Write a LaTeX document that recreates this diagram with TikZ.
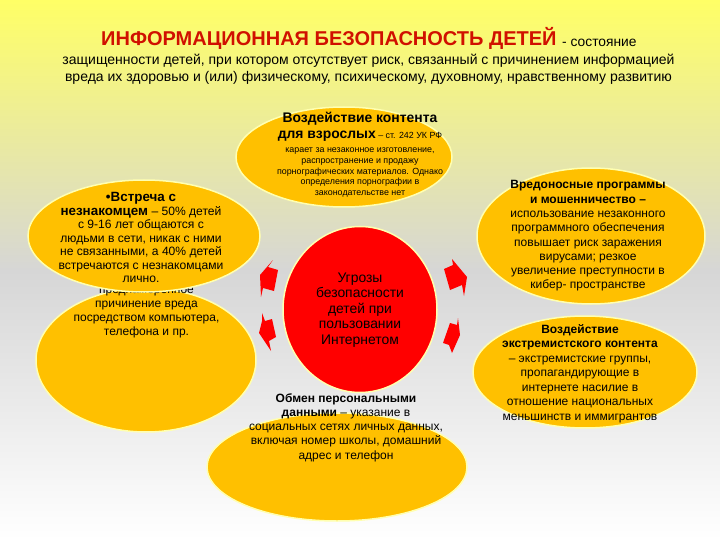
\documentclass[tikz,border=0pt]{standalone}
\usepackage{fontspec}
\setmainfont{Liberation Sans}
\usetikzlibrary{shapes.geometric}
\definecolor{pagetop}{HTML}{FFFF66}
\definecolor{pagemid}{HTML}{D6D6D6}
\definecolor{blobfill}{HTML}{FFC000}
\definecolor{blobedge}{HTML}{FFFFB0}
\definecolor{titlered}{HTML}{D01000}
\tikzset{
	blob/.style={ellipse,fill=blobfill,draw=blobedge,line width=1.5pt,inner sep=0pt},
	threat/.style={ellipse,fill=red,draw=blobedge,line width=1.5pt,inner sep=0pt},
	label/.style={align=center,inner sep=0pt,text=black,font=\fontsize{12}{14.3}\selectfont},
	redarrow/.style={fill=red,draw=none}
}
\begin{document}
\begin{tikzpicture}[x=1pt,y=-1pt]
	\shade[top color=pagetop,bottom color=pagemid] (0,0) rectangle (720,271);
	\shade[top color=pagemid,bottom color=white] (0,270) rectangle (720,540);
	\useasboundingbox (0,0) rectangle (720,540);

	\node[label,text=titlered,font=\bfseries\fontsize{20}{24}\selectfont,anchor=base west] (title) at (101,46) {ИНФОРМАЦИОННАЯ БЕЗОПАСНОСТЬ ДЕТЕЙ};
	\node[label,font=\fontsize{13.8}{16}\selectfont,anchor=base west] (titletail) at (562,47) {- состояние};
	\node[label,font=\fontsize{14}{17}\selectfont] (intro) at (368.5,69) {защищенности детей, при котором отсутствует риск, связанный с причинением информацией\\вреда их здоровью и (или) физическому, психическому, духовному, нравственному развитию};

	\node[blob,minimum width=220pt,minimum height=144pt] (cyber) at (146,360) {};
	\node[label,font=\fontsize{12}{14}\selectfont] (cybertext) at (146.5,312.5) {преднамеренное\\причинение вреда\\посредством компьютера,\\телефона и пр.};
	\node[blob,minimum width=232pt,minimum height=112pt] (stranger) at (144,236) {};
	\node[blob,minimum width=216pt,minimum height=100pt] (adult) at (344,157) {};
	\node[blob,minimum width=228pt,minimum height=136pt] (malware) at (591,236) {};
	\node[blob,minimum width=224pt,minimum height=112pt] (extreme) at (585,372) {};
	\node[blob,minimum width=260pt,minimum height=108pt] (personal) at (337,467) {};
	\node[threat,minimum width=154pt,minimum height=166pt] (centre) at (360,309.5) {};

	\node[label,font=\fontsize{12.1}{13.5}\selectfont] (strangertext) at (141,237.5) {\textbf{\fontsize{13.4}{13.5}\selectfont •Встреча с}\\\textbf{\fontsize{13.4}{13.5}\selectfont незнакомцем} – 50\% детей\\с 9-16 лет общаются с\\людьми в сети, никак с ними\\не связанными, а 40\% детей\\встречаются с незнакомцами\\лично.};
	\node[label,font=\fontsize{8.9}{10.8}\selectfont] (adulttext) at (360,155) {\textbf{\fontsize{13.9}{14}\selectfont Воздействие контента}\\[5pt]\textbf{\fontsize{13.9}{14}\selectfont для взрослых} – ст. 242 УК РФ\\[3pt]карает за незаконное изготовление,\\распространение и продажу\\порнографических материалов. Однако\\определения порнографии в\\законодательстве нет};
	\node[label,font=\fontsize{13.9}{15.6}\selectfont] (centretext) at (360,310) {Угрозы\\безопасности\\детей при\\пользовании\\Интернетом};
	\node[label] (malwaretext) at (588,236) {\textbf{Вредоносные программы}\\\textbf{и мошенничество –}\\использование незаконного\\программного обеспечения\\повышает риск заражения\\вирусами; резкое\\увеличение преступности в\\кибер- пространстве};
	\node[label,font=\fontsize{12}{14.5}\selectfont] (extremetext) at (580,373.5) {\textbf{Воздействие}\\\textbf{экстремистского контента}\\– экстремистские группы,\\пропагандирующие в\\интернете насилие в\\отношение национальных\\меньшинств и иммигрантов};
	\node[label] (personaltext) at (346,427.5) {\textbf{Обмен персональными}\\\textbf{данными} – указание в\\социальных сетях личных данных,\\включая номер школы, домашний\\адрес и телефон};

	\fill[redarrow] (273,260) -- (268,267) -- (278,270) -- (274,291) -- (263,288) -- (261,297) -- (260,275) -- cycle;
	\fill[redarrow] (262,313) -- (265,321) -- (272,319) -- (276,337) -- (269,341) -- (271,351) -- (259,333) -- (262,321) -- cycle;
	\fill[redarrow] (452,259) -- (453,265) -- (444,269) -- (450,290) -- (462,285) -- (464,296) -- (467,277) -- cycle;
	\fill[redarrow] (458,318) -- (460,335) -- (452,353) -- (449,345) -- (443,343) -- (450,323) -- (457,325) -- cycle;
\end{tikzpicture}
\end{document}
